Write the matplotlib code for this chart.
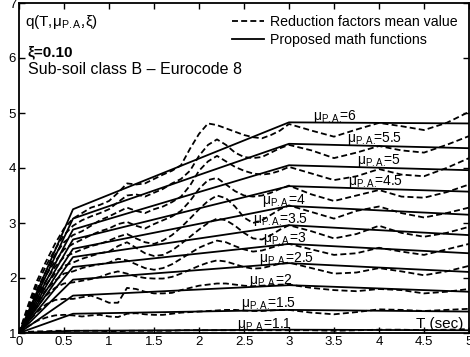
import matplotlib
matplotlib.use("Agg")
import matplotlib.pyplot as plt

plt.rcParams["font.family"] = ["Liberation Sans", "DejaVu Sans"]
plt.rcParams["mathtext.fontset"] = "custom"
plt.rcParams["mathtext.rm"] = "Liberation Sans"
plt.rcParams["mathtext.it"] = "Liberation Sans:italic"
plt.rcParams["lines.scale_dashes"] = False

# ductility levels (mu_P.A.)
mu_levels = ["1.1", "1.5", "2", "2.5", "3", "3.5", "4", "4.5", "5", "5.5", "6"]

# proposed math functions (solid), period breakpoints
T_prop = [0.0, 0.6, 3.0, 5.0]
q_prop_11 = [1.0, 1.04, 1.06, 1.05]
q_prop_15 = [1.0, 1.35, 1.42, 1.39]
q_prop_20 = [1.0, 1.68, 1.87, 1.75]
q_prop_25 = [1.0, 1.97, 2.27, 2.11]
q_prop_30 = [1.0, 2.20, 2.62, 2.45]
q_prop_35 = [1.0, 2.38, 2.96, 2.78]
q_prop_40 = [1.0, 2.53, 3.31, 3.15]
q_prop_45 = [1.0, 2.70, 3.67, 3.57]
q_prop_50 = [1.0, 2.88, 4.05, 3.96]
q_prop_55 = [1.0, 3.08, 4.44, 4.36]
q_prop_60 = [1.0, 3.25, 4.83, 4.81]

# reduction factors mean value (dashed)
T_mean = [0, 0.1, 0.2, 0.3, 0.4, 0.5, 0.6, 0.7, 0.8, 0.9, 1.0, 1.1, 1.2, 1.3,
          1.4, 1.5, 1.6, 1.7, 1.8, 1.9, 2.0, 2.1, 2.2, 2.3, 2.4, 2.5, 2.6, 2.7,
          2.8, 2.9, 3.0, 3.25, 3.5, 3.75, 4.0, 4.25, 4.5, 4.75, 5.0]
q_mean_11 = [1.0, 1.02, 1.03, 1.03, 1.04, 1.04, 1.04, 1.04, 1.04, 1.04, 1.03,
             1.03, 1.04, 1.04, 1.04, 1.04, 1.04, 1.04, 1.05, 1.05, 1.05, 1.05,
             1.05, 1.05, 1.05, 1.05, 1.05, 1.05, 1.05, 1.05, 1.05, 1.05, 1.04,
             1.05, 1.06, 1.06, 1.05, 1.06, 1.07]
q_mean_15 = [1.0, 1.12, 1.22, 1.28, 1.32, 1.33, 1.32, 1.30, 1.32, 1.33, 1.30,
             1.29, 1.35, 1.36, 1.34, 1.33, 1.33, 1.35, 1.37, 1.38, 1.39, 1.40,
             1.41, 1.42, 1.42, 1.41, 1.40, 1.40, 1.41, 1.42, 1.42, 1.37, 1.34,
             1.38, 1.43, 1.42, 1.40, 1.42, 1.44]
q_mean_20 = [1.0, 1.20, 1.38, 1.52, 1.60, 1.62, 1.62, 1.65, 1.68, 1.62, 1.55,
             1.55, 1.82, 1.80, 1.75, 1.72, 1.72, 1.73, 1.78, 1.82, 1.86, 1.88,
             1.90, 1.90, 1.88, 1.86, 1.85, 1.86, 1.87, 1.88, 1.88, 1.82, 1.78,
             1.76, 1.80, 1.78, 1.72, 1.75, 1.80]
q_mean_25 = [1.0, 1.25, 1.48, 1.68, 1.82, 1.90, 1.92, 1.95, 1.98, 2.02, 2.08,
             2.12, 2.08, 2.03, 2.00, 1.99, 1.99, 2.02, 2.08, 2.15, 2.22, 2.28,
             2.32, 2.30, 2.25, 2.20, 2.17, 2.18, 2.22, 2.26, 2.28, 2.18, 2.08,
             2.10, 2.18, 2.12, 2.05, 2.12, 2.22]
q_mean_30 = [1.0, 1.28, 1.55, 1.78, 1.95, 2.08, 2.12, 2.18, 2.22, 2.25, 2.28,
             2.35, 2.32, 2.25, 2.18, 2.15, 2.18, 2.25, 2.35, 2.45, 2.55, 2.62,
             2.68, 2.65, 2.58, 2.52, 2.48, 2.50, 2.55, 2.60, 2.62, 2.52, 2.42,
             2.45, 2.55, 2.48, 2.42, 2.52, 2.62]
q_mean_35 = [1.0, 1.32, 1.62, 1.88, 2.08, 2.22, 2.28, 2.35, 2.40, 2.45, 2.48,
             2.58, 2.65, 2.55, 2.45, 2.40, 2.42, 2.50, 2.62, 2.75, 2.88, 3.00,
             3.08, 3.05, 2.95, 2.82, 2.72, 2.70, 2.78, 2.88, 2.96, 2.85, 2.72,
             2.80, 2.95, 2.82, 2.75, 2.82, 2.93]
q_mean_40 = [1.0, 1.35, 1.68, 1.95, 2.20, 2.38, 2.45, 2.52, 2.58, 2.62, 2.68,
             2.75, 2.80, 2.72, 2.65, 2.62, 2.68, 2.78, 2.92, 3.08, 3.25, 3.40,
             3.50, 3.45, 3.30, 3.10, 3.00, 3.05, 3.15, 3.25, 3.32, 3.20, 3.08,
             3.22, 3.30, 3.18, 3.10, 3.18, 3.28]
q_mean_45 = [1.0, 1.40, 1.75, 2.05, 2.30, 2.52, 2.62, 2.70, 2.78, 2.85, 2.90,
             2.98, 3.02, 2.95, 2.90, 2.98, 3.05, 3.12, 3.22, 3.40, 3.62, 3.78,
             3.82, 3.70, 3.58, 3.50, 3.48, 3.50, 3.55, 3.62, 3.68, 3.52, 3.40,
             3.50, 3.60, 3.48, 3.46, 3.56, 3.70]
q_mean_50 = [1.0, 1.42, 1.80, 2.12, 2.42, 2.65, 2.78, 2.85, 2.95, 3.05, 3.12,
             3.20, 3.28, 3.22, 3.18, 3.25, 3.30, 3.38, 3.48, 3.68, 3.95, 4.12,
             4.22, 4.12, 4.02, 3.95, 3.90, 3.88, 3.90, 3.95, 4.02, 3.90, 3.78,
             3.85, 3.98, 3.88, 3.85, 4.00, 4.18]
q_mean_55 = [1.0, 1.45, 1.88, 2.22, 2.52, 2.78, 2.95, 3.05, 3.12, 3.18, 3.25,
             3.38, 3.50, 3.52, 3.48, 3.55, 3.62, 3.72, 3.80, 3.95, 4.22, 4.42,
             4.52, 4.42, 4.28, 4.20, 4.18, 4.20, 4.28, 4.36, 4.42, 4.32, 4.18,
             4.28, 4.40, 4.32, 4.28, 4.42, 4.58]
q_mean_60 = [1.0, 1.50, 1.95, 2.30, 2.62, 2.90, 3.08, 3.18, 3.28, 3.33, 3.40,
             3.55, 3.72, 3.70, 3.72, 3.80, 3.88, 3.95, 4.05, 4.35, 4.62, 4.81,
             4.78, 4.72, 4.66, 4.60, 4.56, 4.54, 4.60, 4.68, 4.80, 4.68, 4.57,
             4.70, 4.82, 4.76, 4.69, 4.82, 5.02]

# label anchor (T, q) for each curve
label_T = [2.42, 2.47, 2.56, 2.67, 2.71, 2.60, 2.70, 3.66, 3.76, 3.64, 3.27]
label_q = [1.16, 1.53, 1.96, 2.36, 2.72, 3.07, 3.41, 3.75, 4.13, 4.54, 4.93]

q_prop = [q_prop_11, q_prop_15, q_prop_20, q_prop_25, q_prop_30, q_prop_35,
          q_prop_40, q_prop_45, q_prop_50, q_prop_55, q_prop_60]
q_mean = [q_mean_11, q_mean_15, q_mean_20, q_mean_25, q_mean_30, q_mean_35,
          q_mean_40, q_mean_45, q_mean_50, q_mean_55, q_mean_60]

fig = plt.figure(figsize=(4.7, 3.57), dpi=100)
ax = fig.add_axes([19 / 470, 24 / 357, 450 / 470, 330 / 357])

for i, mu in enumerate(mu_levels):
    ax.plot(T_mean, q_mean[i], color="black", lw=1.3, linestyle=(0, (4.3, 2.3)),
            label="Reduction factors mean value" if i == 0 else None)
    ax.plot(T_prop, q_prop[i], color="black", lw=1.3, linestyle="-",
            label="Proposed math functions" if i == 0 else None)
    ax.text(label_T[i], label_q[i], r"μ$_{\mathrm{P.A.}}\!\!$=" + mu,
            fontsize=10, va="center", ha="left")

ax.set_xlim(0, 5)
ax.set_ylim(1, 7)
ax.set_xticks([0, 0.5, 1, 1.5, 2, 2.5, 3, 3.5, 4, 4.5, 5])
ax.set_xticklabels(["0", "0.5", "1", "1.5", "2", "2.5", "3", "3.5", "4", "4.5", "5"])
ax.set_yticks([1, 2, 3, 4, 5, 6, 7])
ax.tick_params(direction="in", top=True, right=True, length=4, width=1,
               labelsize=9.5, pad=2)
for s in ax.spines.values():
    s.set_linewidth(1.3)

ax.text(0.07, 6.66, r"q(T,μ$_{\mathrm{P.A.}}\!\!$,ξ)", fontsize=11, va="center")
ax.text(0.10, 6.11, "ξ=0.10", fontsize=11, fontweight="bold", va="center")
ax.text(0.10, 5.80, "Sub-soil class B – Eurocode 8", fontsize=11.5, va="center")
ax.text(4.94, 1.16, "T (sec)", fontsize=11, va="center", ha="right")

ax.legend(loc="upper left", bbox_to_anchor=(0.458, 0.985), frameon=False,
          fontsize=10.2, handlelength=2.25, handletextpad=0.45, borderpad=0.5,
          labelspacing=0.25, borderaxespad=0)

fig.savefig("out.png", dpi=100)
